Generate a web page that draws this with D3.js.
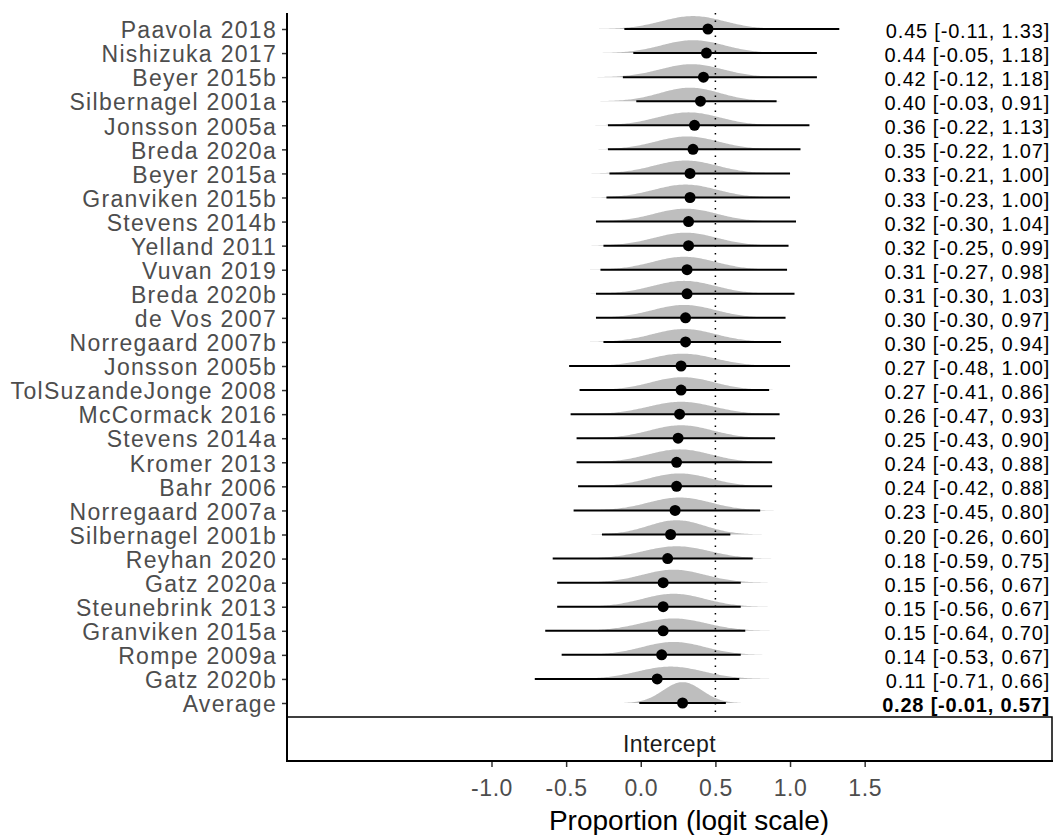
<!DOCTYPE html>
<html>
<head>
<meta charset="utf-8">
<script src="https://cdn.jsdelivr.net/npm/d3@7"></script>
<style>
  html, body { margin: 0; padding: 0; background: #fff; }
  svg { display: block; font-family: 'Liberation Sans', Arial, sans-serif; }
</style>
</head>
<body>
<div id="chart"></div>
<script>
'use strict';

// studies, top to bottom (Average last)
var studies = ['Paavola 2018', 'Nishizuka 2017', 'Beyer 2015b', 'Silbernagel 2001a', 'Jonsson 2005a',
  'Breda 2020a', 'Beyer 2015a', 'Granviken 2015b', 'Stevens 2014b', 'Yelland 2011', 'Vuvan 2019',
  'Breda 2020b', 'de Vos 2007', 'Norregaard 2007b', 'Jonsson 2005b', 'TolSuzandeJonge 2008',
  'McCormack 2016', 'Stevens 2014a', 'Kromer 2013', 'Bahr 2006', 'Norregaard 2007a',
  'Silbernagel 2001b', 'Reyhan 2020', 'Gatz 2020a', 'Steunebrink 2013', 'Granviken 2015a',
  'Rompe 2009a', 'Gatz 2020b', 'Average'];
var estimate = [0.45, 0.44, 0.42, 0.40, 0.36, 0.35, 0.33, 0.33, 0.32, 0.32, 0.31, 0.31, 0.30, 0.30,
  0.27, 0.27, 0.26, 0.25, 0.24, 0.24, 0.23, 0.20, 0.18, 0.15, 0.15, 0.15, 0.14, 0.11, 0.28];
var lower = [-0.11, -0.05, -0.12, -0.03, -0.22, -0.22, -0.21, -0.23, -0.30, -0.25, -0.27, -0.30, -0.30, -0.25,
  -0.48, -0.41, -0.47, -0.43, -0.43, -0.42, -0.45, -0.26, -0.59, -0.56, -0.56, -0.64, -0.53, -0.71, -0.01];
var upper = [1.33, 1.18, 1.18, 0.91, 1.13, 1.07, 1.00, 1.00, 1.04, 0.99, 0.98, 1.03, 0.97, 0.94,
  1.00, 0.86, 0.93, 0.90, 0.88, 0.88, 0.80, 0.60, 0.75, 0.67, 0.67, 0.70, 0.67, 0.66, 0.57];
// posterior density (centre, spread)
var postMean = [0.35, 0.35, 0.34, 0.33, 0.32, 0.31, 0.30, 0.30, 0.30, 0.30, 0.29, 0.29, 0.29, 0.29,
  0.28, 0.28, 0.27, 0.27, 0.26, 0.26, 0.26, 0.24, 0.24, 0.22, 0.22, 0.22, 0.22, 0.20, 0.28];
var postSd = [0.21, 0.21, 0.21, 0.20, 0.21, 0.21, 0.21, 0.21, 0.21, 0.21, 0.21, 0.21, 0.21, 0.21,
  0.22, 0.21, 0.22, 0.21, 0.21, 0.21, 0.21, 0.19, 0.22, 0.21, 0.21, 0.22, 0.21, 0.22, 0.13];
var xTicks = [-1.0, -0.5, 0.0, 0.5, 1.0, 1.5];
var refLine = 0.5;

var width = 1055, height = 835;
var panel = { left: 287, right: 1052, top: 13, bottom: 717 };
var stripBottom = 761;

// R style hyphen minus, not unicode minus
var f2 = function (v) { return d3.format('.2f')(v).replace('\u2212', '-'); };
var f1 = function (v) { return d3.format('.1f')(v).replace('\u2212', '-'); };

var rows = studies.map(function (s, i) {
  return { name: s, est: estimate[i], lo: lower[i], hi: upper[i], m: postMean[i], sd: postSd[i],
    label: f2(estimate[i]) + ' [' + f2(lower[i]) + ', ' + f2(upper[i]) + ']' };
});

var svg = d3.select('#chart').append('svg')
  .attr('width', width)
  .attr('height', height);

var x = d3.scaleLinear().domain([-2.37, 2.755]).range([panel.left, panel.right]);
var y = d3.scalePoint().domain(studies).range([29, 703]);

// densities
var densK = 6.8;
var area = d3.area()
  .x(function (p) { return x(p[0]); })
  .y0(function (p) { return p[2]; })
  .y1(function (p) { return p[2] - p[1] * densK; });

svg.append('g').selectAll('path')
  .data(rows)
  .enter()
  .append('path')
  .attr('d', function (d) {
    var pts = d3.range(-3, 3.001, 0.05).map(function (z) {
      var v = d.m + z * d.sd;
      var pdf = Math.exp(-0.5 * z * z) / (d.sd * Math.sqrt(2 * Math.PI));
      return [v, pdf, y(d.name)];
    });
    return area(pts);
  })
  .attr('fill', '#bebebe');

// reference line
svg.append('line')
  .attr('x1', x(refLine)).attr('x2', x(refLine))
  .attr('y1', panel.top).attr('y2', panel.bottom)
  .attr('stroke', '#000')
  .attr('stroke-width', 1.5)
  .attr('stroke-dasharray', '1.5,6');

// intervals
svg.append('g').selectAll('line')
  .data(rows)
  .enter()
  .append('line')
  .attr('x1', function (d) { return x(d.lo); })
  .attr('x2', function (d) { return x(d.hi); })
  .attr('y1', function (d) { return y(d.name); })
  .attr('y2', function (d) { return y(d.name); })
  .attr('stroke', '#000')
  .attr('stroke-width', 2);

svg.append('g').selectAll('circle')
  .data(rows)
  .enter()
  .append('circle')
  .attr('cx', function (d) { return x(d.est); })
  .attr('cy', function (d) { return y(d.name); })
  .attr('r', 5.5)
  .attr('fill', '#000');

// estimate labels at right
svg.append('g').selectAll('text')
  .data(rows)
  .enter()
  .append('text')
  .attr('x', panel.right - 2)
  .attr('y', function (d) { return y(d.name) + 9; })
  .attr('text-anchor', 'end')
  .attr('font-size', 20)
  .attr('letter-spacing', 0.8)
  .attr('font-weight', function (d, i) { return i === rows.length - 1 ? 'bold' : 'normal'; })
  .attr('fill', '#000')
  .text(function (d) { return d.label; });

// strip
svg.append('rect')
  .attr('x', panel.left)
  .attr('y', panel.bottom)
  .attr('width', panel.right - panel.left)
  .attr('height', stripBottom - panel.bottom)
  .attr('fill', '#fff')
  .attr('stroke', '#000')
  .attr('stroke-width', 1.5);

svg.append('text')
  .attr('x', (panel.left + panel.right) / 2)
  .attr('y', 752)
  .attr('text-anchor', 'middle')
  .attr('font-size', 23)
  .attr('letter-spacing', 0.4)
  .attr('fill', '#1a1a1a')
  .text('Intercept');

// y axis
var yAxis = svg.append('g')
  .attr('transform', 'translate(' + panel.left + ',0)')
  .call(d3.axisLeft(y).tickSize(5).tickPadding(5));
yAxis.select('.domain').remove();
yAxis.selectAll('line').attr('stroke', '#333').attr('stroke-width', 1.5);
yAxis.selectAll('text')
  .attr('font-size', 23)
  .attr('letter-spacing', 1.3)
  .attr('dy', '0.38em')
  .attr('fill', '#4d4d4d')
  .attr('font-family', null);

svg.append('line')
  .attr('x1', panel.left).attr('x2', panel.left)
  .attr('y1', panel.top).attr('y2', stripBottom + 1)
  .attr('stroke', '#000').attr('stroke-width', 2);

// x axis
var xAxis = svg.append('g')
  .attr('transform', 'translate(0,' + stripBottom + ')')
  .call(d3.axisBottom(x).tickValues(xTicks).tickFormat(f1).tickSize(6).tickPadding(13));
xAxis.select('.domain').remove();
xAxis.selectAll('line').attr('stroke', '#333').attr('stroke-width', 1.5);
xAxis.selectAll('text')
  .attr('font-size', 23)
  .attr('letter-spacing', 0.6)
  .attr('fill', '#4d4d4d')
  .attr('font-family', null);

svg.append('line')
  .attr('x1', panel.left - 1).attr('x2', panel.right + 1)
  .attr('y1', stripBottom).attr('y2', stripBottom)
  .attr('stroke', '#000').attr('stroke-width', 2);

svg.append('text')
  .attr('x', 689)
  .attr('y', 830)
  .attr('text-anchor', 'middle')
  .attr('font-size', 28)
  .attr('fill', '#000')
  .text('Proportion (logit scale)');
</script>
</body>
</html>
